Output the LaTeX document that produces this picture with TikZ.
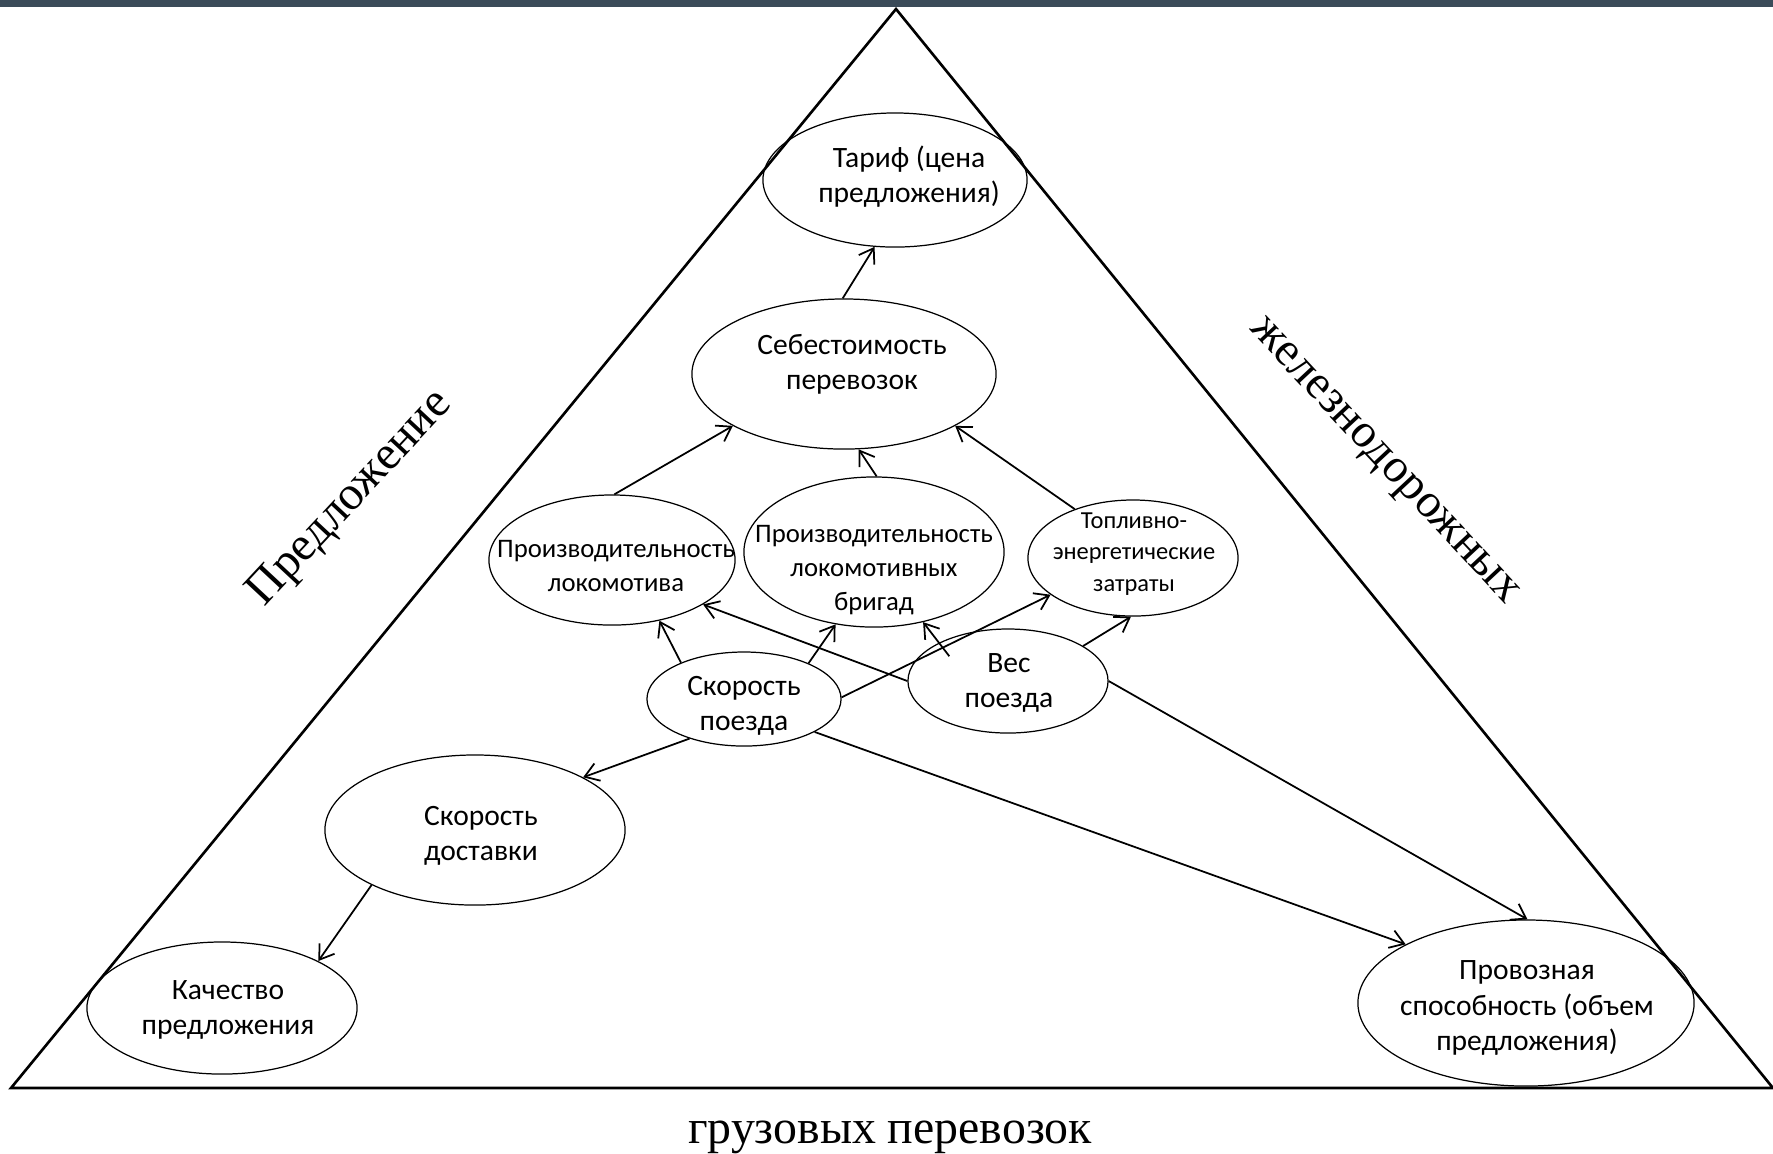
\documentclass[tikz,border=0pt]{standalone}
\usepackage{fontspec}
\setmainfont{Liberation Serif}
\newfontfamily\calib{Carlito}
\usetikzlibrary{shapes.geometric,arrows.meta}
\definecolor{bandcol}{RGB}{59,75,89}
\begin{document}
\begin{tikzpicture}[x=0.01cm,y=-0.01cm,
  oval/.style={ellipse,draw,line width=0.35pt,inner sep=0pt},
  txt/.style={align=center,font=\calib\fontsize{8.4}{10}\selectfont,inner sep=0pt},
  txtmid/.style={align=center,font=\calib\fontsize{7.6}{9.6}\selectfont,inner sep=0pt},
  txtsmall/.style={align=center,font=\calib\fontsize{6.95}{9}\selectfont,inner sep=0pt},
  conn/.style={line width=0.5pt,-{Straight Barb[length=3.9pt,width=5.2pt]}},
  side/.style={font=\fontsize{13.6}{16}\selectfont,inner sep=0pt}]
\useasboundingbox (0,0) rectangle (1773,1153);
\fill[bandcol] (0,0) rectangle (1773,7);
% triangle
\coordinate (A) at (896,9);
\coordinate (B) at (11,1088);
\coordinate (C) at (1773,1088);
\draw[line width=0.75pt] (A) -- (B) -- (C) -- cycle;
% ellipses
\node[oval,minimum width=2.64cm,minimum height=1.34cm] (T) at (895,180) {};
\node[txt] (Tt) at (909,177) {Тариф (цена\\предложения)};
\node[oval,minimum width=3.04cm,minimum height=1.50cm] (S) at (844,374) {};
\node[txt] (St) at (852,364) {Себестоимость\\перевозок};
\node[oval,minimum width=2.46cm,minimum height=1.30cm] (PL) at (612,560) {};
\node[txtmid] (PLt) at (616,566) {Производительность\\локомотива};
\node[oval,minimum width=2.60cm,minimum height=1.50cm] (PB) at (874,552) {};
\node[txtmid] (PBt) at (874,570) {Производительность\\локомотивных\\бригад};
\node[oval,minimum width=2.10cm,minimum height=1.16cm] (TE) at (1133,558) {};
\node[txtsmall] (TEt) at (1134,554) {Топливно-\\энергетические\\затраты};
\node[oval,minimum width=1.94cm,minimum height=0.94cm] (SP) at (744,699) {};
\node[txt] (SPt) at (744,706) {Скорость\\поезда};
\node[oval,minimum width=2.00cm,minimum height=1.04cm] (VP) at (1008,681) {};
\node[txt] (VPt) at (1009,683) {Вес\\поезда};
\node[oval,minimum width=3.00cm,minimum height=1.50cm] (SD) at (475,830) {};
\node[txt] (SDt) at (481,836) {Скорость\\доставки};
\node[oval,minimum width=2.70cm,minimum height=1.32cm] (KP) at (222,1008) {};
\node[txt] (KPt) at (228,1010) {Качество\\предложения};
\node[oval,minimum width=3.36cm,minimum height=1.66cm] (PR) at (1526,1003) {};
\node[txt] (PRt) at (1527,1008) {Провозная\\способность (объем\\предложения)};
% side labels
\node[side,rotate=47] (L1) at (351,499) {Предложение};
\node[side,rotate=-47] (L2) at (1382,463) {железнодорожных};
\node[side,anchor=base] (L3) at (890,1143) {грузовых перевозок};
% connectors
\draw[conn] (S.91) -- (T.253);
\draw[conn] (PL.88) -- (S.205);
\draw[conn] (PB.88) -- (S.281);
\draw[conn] (TE.140) -- (S.335);
\draw[conn] (SP.150) -- (PL.308);
\draw[conn] (SP.29) -- (PB.242);
\draw[conn] (SP.1) -- (TE.204);
\draw[conn] (VP.180) -- (PL.334);
\draw[conn,shorten <=-0.17cm] (VP.151) -- (PB.305);
\draw[conn] (VP.25) -- (TE.268);
\draw[conn] (VP.0) -- (PR.89);
\draw[conn] (SP.335) -- (PR.154);
\draw[conn] (SP.216) -- (SD.26);
\draw[conn] (SD.208) -- (KP.26);
\end{tikzpicture}
\end{document}
